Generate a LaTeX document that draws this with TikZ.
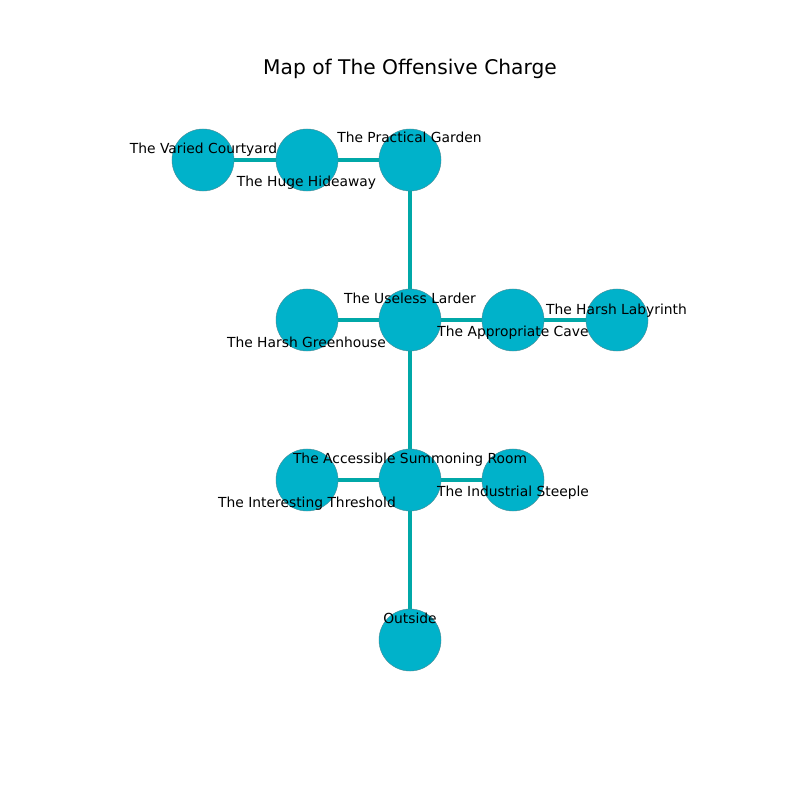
\documentclass[tikz,border=0pt]{standalone}
\usepackage{fontspec}
\setmainfont{DejaVu Sans}
\definecolor{nodefill}{HTML}{00B2CA}
\definecolor{nodeedge}{HTML}{4A8A94}
\definecolor{edgecol}{HTML}{00A8A8}
\begin{document}
\begin{tikzpicture}[x=0.01in,y=-0.01in,
  room/.style={circle,draw=nodeedge,line width=0.3pt,fill=nodefill,minimum size=0.62in,inner sep=0pt},
  link/.style={draw=edgecol,line width=3.6pt},
  lbl/.style={font=\fontsize{10}{12}\selectfont,anchor=base,inner sep=0pt}]
\useasboundingbox (0,0) rectangle (800,800);
\fill[white] (0,0) rectangle (800,800);
\node[font=\fontsize{14.6}{17}\selectfont,anchor=base,inner sep=0pt] (title) at (410,75) {Map of The Offensive Charge};
% nodes (positions)
\coordinate (pVC) at (203,160);
\coordinate (pHH) at (307,160);
\coordinate (pPG) at (410,160);
\coordinate (pHG) at (307,320);
\coordinate (pUL) at (410,320);
\coordinate (pAC) at (513,320);
\coordinate (pHL) at (617,320);
\coordinate (pIT) at (307,480);
\coordinate (pAS) at (410,480);
\coordinate (pIS) at (513,480);
\coordinate (pOU) at (410,640);
% edges
\draw[link] (pVC) -- (pHH);
\draw[link] (pHH) -- (pPG);
\draw[link] (pPG) -- (pUL);
\draw[link] (pHG) -- (pUL);
\draw[link] (pUL) -- (pAC);
\draw[link] (pAC) -- (pHL);
\draw[link] (pUL) -- (pAS);
\draw[link] (pIT) -- (pAS);
\draw[link] (pAS) -- (pIS);
\draw[link] (pAS) -- (pOU);
% circles
\node[room] (VC) at (pVC) {};
\node[room] (HH) at (pHH) {};
\node[room] (PG) at (pPG) {};
\node[room] (HG) at (pHG) {};
\node[room] (UL) at (pUL) {};
\node[room] (AC) at (pAC) {};
\node[room] (HL) at (pHL) {};
\node[room] (IT) at (pIT) {};
\node[room] (AS) at (pAS) {};
\node[room] (IS) at (pIS) {};
\node[room] (OU) at (pOU) {};
% labels
\node[lbl] (lVC) at (203.5,154) {The Varied Courtyard};
\node[lbl] (lHH) at (306.5,187) {The Huge Hideaway};
\node[lbl] (lPG) at (409.5,143) {The Practical Garden};
\node[lbl] (lUL) at (410,303) {The Useless Larder};
\node[lbl] (lHG) at (306.5,347) {The Harsh Greenhouse};
\node[lbl] (lAC) at (513,336) {The Appropriate Cave};
\node[lbl] (lHL) at (616.5,314) {The Harsh Labyrinth};
\node[lbl] (lAS) at (410,463) {The Accessible Summoning Room};
\node[lbl] (lIT) at (307,507) {The Interesting Threshold};
\node[lbl] (lIS) at (513,496) {The Industrial Steeple};
\node[lbl] (lOU) at (410,623) {Outside};
\end{tikzpicture}
\end{document}
